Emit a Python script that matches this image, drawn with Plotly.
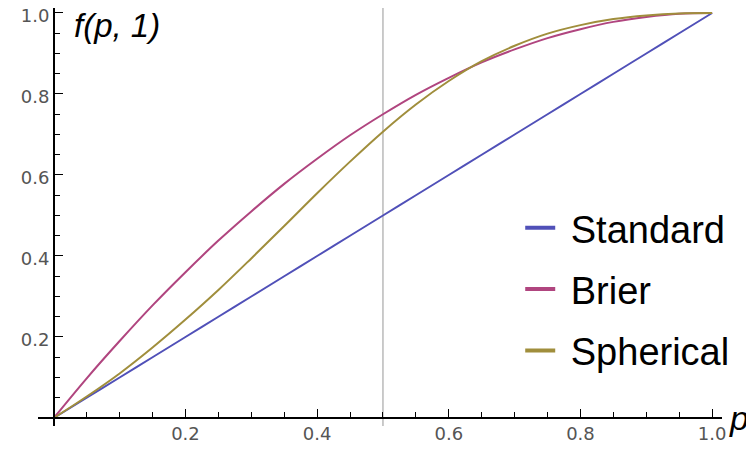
import plotly.graph_objects as go

# Values
p = [0.0, 0.05, 0.1, 0.15, 0.2, 0.25, 0.3, 0.35, 0.4, 0.45, 0.5,
     0.55, 0.6, 0.65, 0.7, 0.75, 0.8, 0.85, 0.9, 0.95, 1.0]
standard = [0.0, 0.05, 0.1, 0.15, 0.2, 0.25, 0.3, 0.35, 0.4, 0.45, 0.5,
            0.55, 0.6, 0.65, 0.7, 0.75, 0.8, 0.85, 0.9, 0.95, 1.0]
brier = [0.0, 0.098, 0.19, 0.278, 0.36, 0.438, 0.51, 0.578, 0.64, 0.698, 0.75,
         0.798, 0.84, 0.878, 0.91, 0.938, 0.96, 0.978, 0.99, 0.998, 1.0]
spherical = [0.0, 0.053, 0.11, 0.174, 0.243, 0.316, 0.394, 0.474, 0.555, 0.633, 0.707,
             0.774, 0.832, 0.881, 0.919, 0.949, 0.97, 0.985, 0.994, 0.999, 1.0]
series_names = ["Standard", "Brier", "Spherical"]
colors = ["#5050b8", "#b0457f", "#a08e3c"]
x_ticks = [0.2, 0.4, 0.6, 0.8, 1.0]
x_tick_labels = ["0.2", "0.4", "0.6", "0.8", "1.0"]
y_ticks = [0.2, 0.4, 0.6, 0.8, 1.0]
y_tick_labels = ["0.2", "0.4", "0.6", "0.8", "1.0"]
marker_p = 0.5

xr = [-0.024, 1.015]
yr = [-0.0198, 1.0123]

fig = go.Figure()
for name, ys, c in zip(series_names, [standard, brier, spherical], colors):
    fig.add_trace(go.Scatter(x=p, y=ys, mode="lines", line=dict(color=c, width=2, shape="spline"),
                             showlegend=False, hoverinfo="skip"))
for name, c in zip(series_names, colors):
    fig.add_trace(go.Scatter(x=[None], y=[None], mode="lines", name=" " + name,
                             line=dict(color=c, width=4), legendgroup=name))

fig.add_shape(type="line", xref="x", yref="paper", x0=marker_p, x1=marker_p, y0=0, y1=1,
              line=dict(color="#a8a8a8", width=1.2), layer="below")

tickfont = dict(family="DejaVu Sans", size=18, color="#555555")
xpos = (0 - yr[0]) / (yr[1] - yr[0])
ypos = (0 - xr[0]) / (xr[1] - xr[0])

axis_common = dict(showgrid=False, zeroline=False, automargin=False,
                   showline=True, linecolor="black", linewidth=1.5,
                   tickmode="array", ticks="inside", ticklen=8, tickwidth=1.2, tickcolor="black",
                   minor=dict(tickmode="linear", tick0=0, dtick=0.05, ticks="inside", ticklen=5,
                              tickwidth=1.2, tickcolor="black", showgrid=False),
                   tickfont=tickfont, ticklabeloverflow="allow")

fig.update_layout(
    width=746, height=449,
    margin=dict(l=30, r=32, t=0, b=31),
    paper_bgcolor="white", plot_bgcolor="white",
    xaxis=dict(range=xr, anchor="free", position=xpos,
               tickvals=x_ticks, ticktext=x_tick_labels, **axis_common),
    yaxis=dict(range=yr, anchor="free", position=ypos, ticklabelshift=3,
               tickvals=y_ticks, ticktext=y_tick_labels, **axis_common),
    legend=dict(x=0.705, y=0.549, xanchor="left", yanchor="top",
                font=dict(family="Liberation Sans", size=38, color="black"),
                tracegroupgap=9, bgcolor="rgba(0,0,0,0)"),
    annotations=[
        dict(text="<i>f(p, 1)</i>", xref="paper", yref="paper", x=0.05, y=1.0,
             xanchor="left", yanchor="top", yshift=3, showarrow=False,
             font=dict(family="Liberation Sans", size=33, color="black")),
        dict(text="<i>p</i>", xref="paper", yref="y", x=1.0, y=0, xanchor="left", yanchor="middle",
             xshift=5, showarrow=False,
             font=dict(family="Liberation Sans", size=34, color="black")),
    ],
)

fig.write_html("out.html")
